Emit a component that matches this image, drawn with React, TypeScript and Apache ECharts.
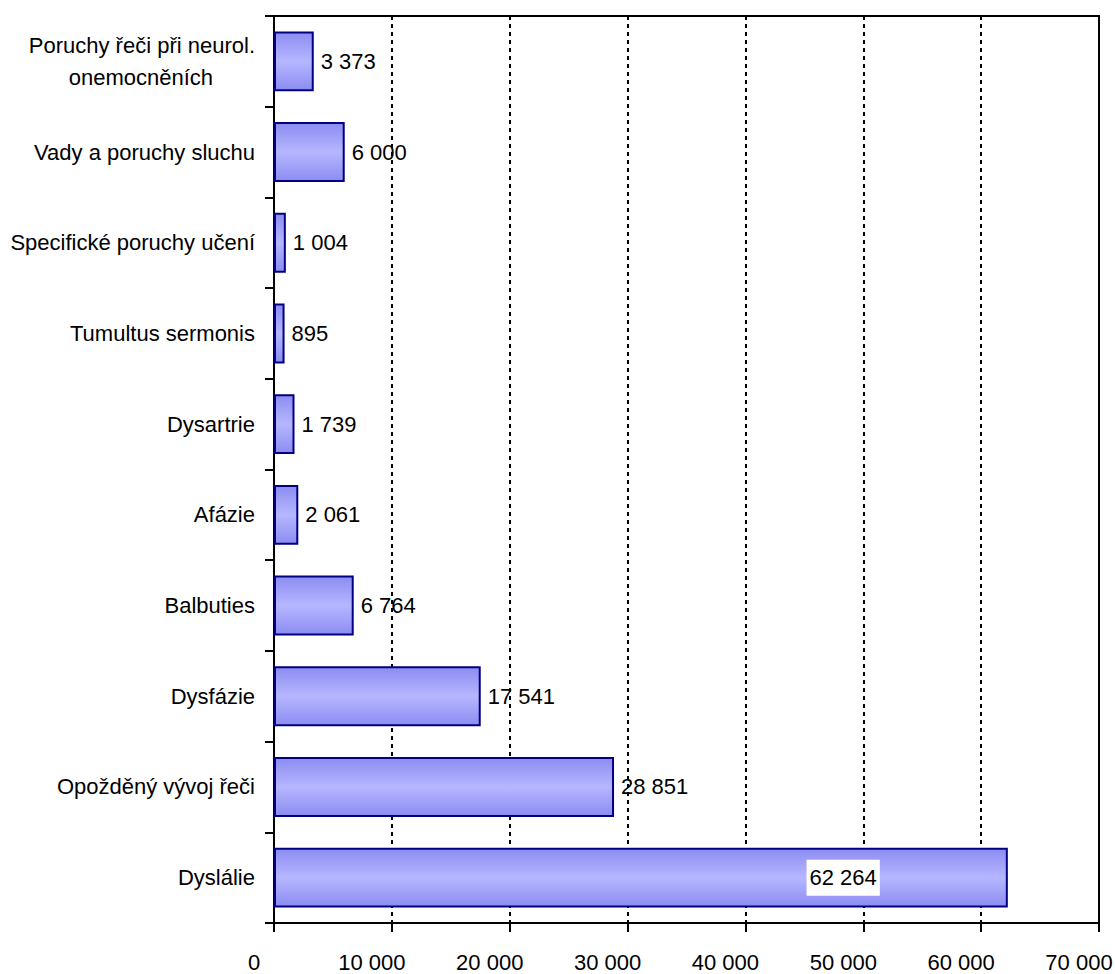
import React, { useEffect, useRef } from "react";
import * as echarts from "echarts";

const categories = [
  "Dyslálie",
  "Opožděný vývoj řeči",
  "Dysfázie",
  "Balbuties",
  "Afázie",
  "Dysartrie",
  "Tumultus sermonis",
  "Specifické poruchy učení",
  "Vady a poruchy sluchu",
  "Poruchy řeči při neurol. onemocněních",
];
const values = [62264, 28851, 17541, 6764, 2061, 1739, 895, 1004, 6000, 3373];
const xTicks = [0, 10000, 20000, 30000, 40000, 50000, 60000, 70000];

const fmt = (v: number) => String(Math.round(v)).replace(/\B(?=(\d{3})+(?!\d))/g, " ");

export default function App() {
  const ref = useRef<HTMLDivElement>(null);
  useEffect(() => {
    document.body.style.margin = "0";
    const chart = echarts.init(ref.current!, null, { renderer: "svg" });
    const font = "'Liberation Sans', Arial, sans-serif";
    const fs = 22;
    const barFill = new echarts.graphic.LinearGradient(0, 0, 0, 1, [
      { offset: 0, color: "#8c8cf2" },
      { offset: 0.5, color: "#b6b6ff" },
      { offset: 1, color: "#8c8cf2" },
    ]);
    chart.setOption({
      animation: false,
      grid: {
        left: 274,
        right: 16,
        top: 16,
        bottom: 51,
        containLabel: false,
        outerBoundsMode: "none",
        show: true,
        borderColor: "#000",
        borderWidth: 2,
        backgroundColor: "transparent",
      },
      xAxis: {
        type: "value",
        min: xTicks[0],
        max: xTicks[xTicks.length - 1],
        interval: 10000,
        axisLine: { show: true, lineStyle: { color: "#000", width: 2 } },
        axisTick: { show: true, length: 9, lineStyle: { color: "#000", width: 2 } },
        axisLabel: {
          color: "#000",
          fontFamily: font,
          fontSize: fs,
          margin: 28,
          formatter: (v: number) => "{t|" + fmt(v) + "}",
          rich: {
            t: { fontFamily: font, fontSize: fs, color: "#000", padding: [0, 40, 0, 0] },
          },
        },
        splitLine: { show: true, lineStyle: { color: "#000", width: 2, type: [4, 4] } },
      },
      yAxis: {
        type: "category",
        data: categories,
        axisLine: { show: true, lineStyle: { color: "#000", width: 2 } },
        axisTick: { show: true, length: 9, lineStyle: { color: "#000", width: 2 } },
        axisLabel: {
          color: "#000",
          fontFamily: font,
          fontSize: fs,
          margin: 19,
          formatter: (v: string) => {
            if (v === "Poruchy řeči při neurol. onemocněních") {
              return "{l1|Poruchy řeči při neurol.}\n{l2|onemocněních}";
            }
            return v;
          },
          rich: {
            l1: { fontFamily: font, fontSize: fs, color: "#000", lineHeight: 32 },
            l2: { fontFamily: font, fontSize: fs, color: "#000", lineHeight: 32, padding: [0, 42, 0, 0] },
          },
        },
        splitLine: { show: false },
      },
      series: [
        {
          type: "bar",
          barCategoryGap: "34%",
          data: values.map((v, i) =>
            i === 0
              ? {
                  value: v,
                  label: {
                    position: "insideRight",
                    distance: 128,
                    backgroundColor: "#fff",
                    padding: [7, 3, 7, 3],
                  },
                }
              : v
          ),
          itemStyle: { color: barFill, borderColor: "#000080", borderWidth: 2 },
          label: {
            show: true,
            position: "right",
            distance: 7,
            color: "#000",
            fontFamily: font,
            fontSize: fs,
            formatter: (p: any) => fmt(p.value),
          },
        },
      ],
    });
    return () => chart.dispose();
  }, []);
  return <div ref={ref} style={{ width: 1115, height: 974 }} />;
}
